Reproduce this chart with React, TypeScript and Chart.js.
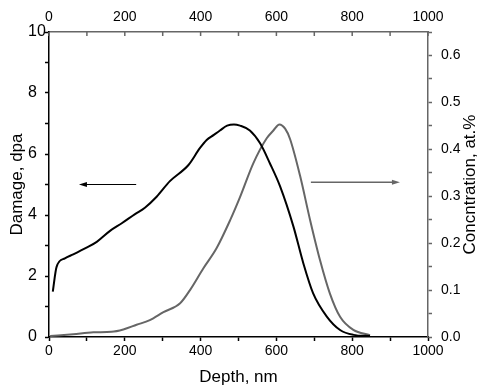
import React, { useEffect, useRef } from "react";
import { Chart, registerables } from "chart.js";

Chart.register(...registerables);

// ---- data ----
const damageDepth = [10, 20, 42, 64, 99, 126, 161, 192, 227, 253, 284, 319, 368, 398, 416, 434, 451, 470, 488, 504, 530, 557, 583, 610, 645, 671, 697, 733, 768, 803, 847];
const damageValues = [1.49, 2.3, 2.58, 2.71, 2.93, 3.12, 3.48, 3.73, 4.03, 4.24, 4.6, 5.11, 5.64, 6.19, 6.46, 6.62, 6.77, 6.93, 6.97, 6.93, 6.77, 6.35, 5.69, 4.93, 3.62, 2.42, 1.43, 0.67, 0.23, 0.07, 0.03];

const concDepth = [3, 64, 117, 165, 196, 231, 266, 302, 346, 372, 407, 442, 478, 504, 539, 574, 592, 608, 623, 636, 662, 689, 715, 741, 768, 803, 847];
const concValues = [0.002, 0.006, 0.010, 0.011, 0.016, 0.026, 0.036, 0.053, 0.072, 0.10, 0.146, 0.189, 0.249, 0.298, 0.37, 0.423, 0.44, 0.453, 0.444, 0.422, 0.345, 0.249, 0.164, 0.093, 0.043, 0.015, 0.004];

// arrows: [xStart, xEnd, yValue]
const damageArrow = [230, 79, 5];
const concArrow = [691, 926, 0.33];

const xTicksLabelStep = 200;
const rightAxisTitle = "Concntration, at.%";

const BLACK = "#000000";
const GRAY = "#666666";
const FONT = "'Liberation Sans', Arial, sans-serif";

const customPlugin = {
  id: "custom",
  afterDraw(chart: any) {
    const { ctx, scales, chartArea } = chart;
    const x = scales.x;
    const y = scales.y;
    const y2 = scales.y2;
    const x2 = scales.x2;
    ctx.save();
    // inward ticks on top axis
    ctx.strokeStyle = GRAY;
    ctx.lineWidth = 1.5;
    x2.ticks.forEach((t: any) => {
      const px = x2.getPixelForValue(t.value);
      ctx.beginPath();
      ctx.moveTo(px, chartArea.top);
      ctx.lineTo(px, chartArea.top + 4);
      ctx.stroke();
    });

    const arrow = (xs: number, xe: number, py: number, color: string, lw: number) => {
      const dir = xe > xs ? 1 : -1;
      ctx.strokeStyle = color;
      ctx.fillStyle = color;
      ctx.lineWidth = lw;
      ctx.beginPath();
      ctx.moveTo(xs, py);
      ctx.lineTo(xe - dir * 6, py);
      ctx.stroke();
      ctx.beginPath();
      ctx.moveTo(xe, py);
      ctx.lineTo(xe - dir * 8, py - 2.5);
      ctx.lineTo(xe - dir * 8, py + 2.5);
      ctx.closePath();
      ctx.fill();
    };
    arrow(x.getPixelForValue(damageArrow[0]), x.getPixelForValue(damageArrow[1]), y.getPixelForValue(damageArrow[2]), BLACK, 1.2);
    arrow(x.getPixelForValue(concArrow[0]), x.getPixelForValue(concArrow[1]), y2.getPixelForValue(concArrow[2]), GRAY, 1.5);

    // right axis title, reading bottom-to-top
    ctx.fillStyle = BLACK;
    ctx.font = `17px ${FONT}`;
    ctx.textAlign = "center";
    ctx.textBaseline = "middle";
    ctx.translate(470, (chartArea.top + chartArea.bottom) / 2);
    ctx.rotate(-Math.PI / 2);
    ctx.fillText(rightAxisTitle, 0, 0);
    ctx.restore();
  },
};

export default function App() {
  const ref = useRef<HTMLCanvasElement | null>(null);
  useEffect(() => {
    if (!ref.current) return;
    const chart = new Chart(ref.current, {
      type: "line",
      data: {
        datasets: [
          {
            label: "Damage",
            data: damageDepth.map((d, i) => ({ x: d, y: damageValues[i] })),
            borderColor: BLACK,
            borderWidth: 2,
            pointRadius: 0,
            cubicInterpolationMode: "monotone",
            xAxisID: "x",
            yAxisID: "y",
          },
          {
            label: "Concentration",
            data: concDepth.map((d, i) => ({ x: d, y: concValues[i] })),
            borderColor: GRAY,
            borderWidth: 2,
            pointRadius: 0,
            cubicInterpolationMode: "monotone",
            xAxisID: "x",
            yAxisID: "y2",
          },
        ],
      },
      options: {
        responsive: false,
        animation: false,
        devicePixelRatio: 1,
        layout: { padding: { left: 28, right: 0, top: 0, bottom: 0 } },
        plugins: { legend: { display: false }, tooltip: { enabled: false } },
        scales: {
          x: {
            type: "linear",
            position: "bottom",
            min: 0,
            max: 1000,
            afterFit: (s: any) => { s.height = 50; },
            ticks: {
              stepSize: 100,
              autoSkip: false,
              maxRotation: 0,
              padding: 2,
              color: BLACK,
              font: { family: FONT, size: 14 },
              callback: (v: any) => (Math.round(v) % xTicksLabelStep === 0 ? String(v) : ""),
            },
            grid: { drawOnChartArea: false, drawTicks: true, tickLength: 4, tickColor: BLACK, tickWidth: 1.5 },
            border: { display: true, color: BLACK, width: 1.5 },
            title: { display: true, text: "Depth, nm", color: BLACK, font: { family: FONT, size: 17 }, padding: { top: 0, bottom: -1 } },
          },
          x2: {
            type: "linear",
            position: "top",
            min: 0,
            max: 1000,
            afterFit: (s: any) => { s.height = 32; },
            ticks: {
              stepSize: 100,
              autoSkip: false,
              maxRotation: 0,
              padding: 6,
              color: BLACK,
              font: { family: FONT, size: 14 },
              callback: (v: any) => (Math.round(v) % xTicksLabelStep === 0 ? String(v) : ""),
            },
            grid: { drawOnChartArea: false, drawTicks: false },
            border: { display: true, color: GRAY, width: 1.5 },
          },
          y: {
            type: "linear",
            position: "left",
            min: 0,
            max: 10,
            afterFit: (s: any) => { s.width = 21; },
            ticks: {
              stepSize: 1,
              autoSkip: false,
              crossAlign: "far",
              color: BLACK,
              font: { family: FONT, size: 16 },
              callback: (v: any) => (Math.round(v) % 2 === 0 ? String(v) : ""),
            },
            grid: { drawOnChartArea: false, drawTicks: true, tickLength: 4, tickColor: BLACK, tickWidth: 1.5 },
            border: { display: true, color: BLACK, width: 1.5 },
            title: { display: true, text: "Damage, dpa", color: BLACK, font: { family: FONT, size: 17 }, padding: { top: -20.7, bottom: 0 } },
          },
          y2: {
            type: "linear",
            position: "right",
            min: 0,
            max: 0.65,
            afterFit: (s: any) => { s.width = 53; },
            ticks: {
              stepSize: 0.05,
              autoSkip: false,
              padding: 9,
              color: BLACK,
              font: { family: FONT, size: 14 },
              callback: (v: any) => (Math.round(v * 100) % 10 === 0 ? Number(v).toFixed(1) : ""),
            },
            grid: { drawOnChartArea: false, drawTicks: true, tickLength: 4, tickColor: GRAY, tickWidth: 1.5 },
            border: { display: true, color: GRAY, width: 1.5 },
          },
        },
      },
      plugins: [customPlugin],
    } as any);
    return () => chart.destroy();
  }, []);
  return (
    <div style={{ position: "fixed", left: 0, top: 0, width: 481, height: 387, background: "#fff" }}>
      <canvas ref={ref} width={481} height={387} />
    </div>
  );
}
